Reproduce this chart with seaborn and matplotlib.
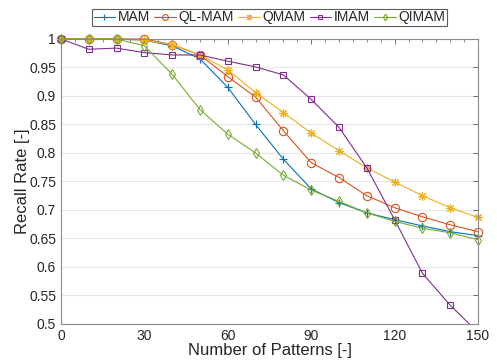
import numpy as np
import pandas as pd
import matplotlib
matplotlib.use("Agg")
import matplotlib.pyplot as plt
import seaborn as sns
from matplotlib.ticker import MultipleLocator
from matplotlib.patches import Rectangle

sns.set_style("white")
plt.rcParams['font.family'] = ['Liberation Sans', 'DejaVu Sans']

patterns = [0, 10, 20, 30, 40, 50, 60, 70, 80, 90, 100, 110, 120, 130, 140, 150]
mam   = [1.0, 1.0, 1.0, 0.998, 0.988, 0.965, 0.915, 0.850, 0.789, 0.737, 0.713, 0.695, 0.683, 0.672, 0.662, 0.655]
qlmam = [1.0, 1.0, 1.0, 1.0, 0.990, 0.972, 0.934, 0.898, 0.839, 0.783, 0.757, 0.725, 0.704, 0.688, 0.674, 0.662]
qmam  = [1.0, 1.0, 1.0, 0.998, 0.990, 0.972, 0.946, 0.906, 0.871, 0.835, 0.804, 0.774, 0.749, 0.725, 0.704, 0.687]
imam  = [1.0, 0.982, 0.984, 0.976, 0.972, 0.972, 0.961, 0.951, 0.937, 0.894, 0.845, 0.774, 0.683, 0.589, 0.533, 0.485]
qimam = [1.0, 1.0, 1.0, 0.988, 0.938, 0.876, 0.833, 0.800, 0.761, 0.735, 0.715, 0.695, 0.680, 0.668, 0.660, 0.648]

names = ["MAM", "QL-MAM", "QMAM", "IMAM", "QIMAM"]
series = [mam, qlmam, qmam, imam, qimam]
colors = ["#0072BD", "#D95319", "#EDB120", "#7E2F8E", "#77AC30"]
markers = ["+", "o", (8, 2, 0), "s", "d"]
msizes = [6, 6, 6, 5, 5]

df = pd.DataFrame({
    "Patterns": np.tile(patterns, len(names)),
    "Recall": np.concatenate(series),
    "Method": np.repeat(names, len(patterns)),
})

fig = plt.figure(figsize=(4.97, 3.61), dpi=100)
ax = fig.add_axes([0.1227, 0.1025, 0.8391, 0.7895])

for name, c, m, ms in zip(names, colors, markers, msizes):
    sub = df[df["Method"] == name]
    sns.lineplot(data=sub, x="Patterns", y="Recall", ax=ax, color=c, marker=m,
                 markersize=ms, markerfacecolor="none", markeredgecolor=c,
                 markeredgewidth=0.8, linewidth=0.8, label=name)

clip = Rectangle((-0.05, 0.0), 1.1, 1.1, transform=ax.transAxes, visible=False)
ax.add_patch(clip)
for ln in ax.lines:
    ln.set_clip_path(clip)

ax.set_xlim(0, 150)
ax.set_ylim(0.5, 1.0)
ax.set_xticks([0, 30, 60, 90, 120, 150])
ax.xaxis.set_minor_locator(MultipleLocator(5))
yt = [0.5, 0.55, 0.6, 0.65, 0.7, 0.75, 0.8, 0.85, 0.9, 0.95, 1.0]
ax.set_yticks(yt)
ax.set_yticklabels(["0.5", "0.55", "0.6", "0.65", "0.7", "0.75", "0.8", "0.85", "0.9", "0.95", "1"])
ax.grid(axis="y", color="#e6e6e6", linewidth=0.8)
ax.grid(axis="x", visible=False)
ax.set_axisbelow(True)
ax.tick_params(axis="both", which="both", direction="in", top=True, right=True,
               labelsize=10, colors="#262626", labelcolor="#262626", pad=3.5)
ax.tick_params(which="major", length=3.5, width=0.6, color="#555555")
ax.tick_params(which="minor", length=2, width=0.5, color="#555555")
ax.tick_params(axis="y", which="minor", left=False, right=False)
for s in ax.spines.values():
    s.set_color("#8a8a8a")
    s.set_linewidth(0.8)

ax.set_xlabel("Number of Patterns [-]", fontsize=12, color="#262626", labelpad=0)
ax.set_ylabel("Recall Rate [-]", fontsize=12, color="#262626")
ax.yaxis.set_label_coords(-0.074, 0.5)

leg = ax.legend(loc="lower center", bbox_to_anchor=(0.5, 1.045), ncol=5, frameon=True,
                fontsize=10, handlelength=1.55, handletextpad=0.2, columnspacing=0.3,
                borderpad=0.12, borderaxespad=0.0, fancybox=False, markerscale=0.7)
leg.get_frame().set_edgecolor("#333333")
leg.get_frame().set_linewidth(0.8)

fig.savefig("out.png", dpi=100)
